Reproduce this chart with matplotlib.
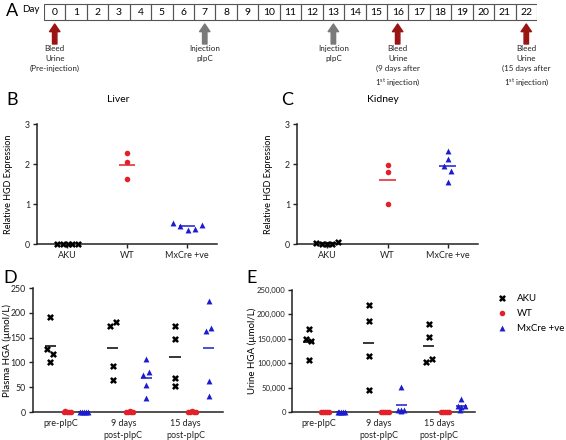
import numpy as np
import matplotlib
matplotlib.use("Agg")
from matplotlib import pyplot as plt
from matplotlib.patches import Rectangle

plt.rcParams['font.family'] = ['Lato', 'DejaVu Sans']
plt.rcParams['mathtext.fontset'] = 'custom'
plt.rcParams['mathtext.rm'] = 'Lato'

# ---- data ----
days = list(range(23))
event_days = [0, 7, 13, 16, 22]
event_kind = ['bleed', 'inject', 'inject', 'bleed', 'bleed']
event_labels = [
    "Bleed\nUrine\n(Pre-injection)",
    "Injection\npIpC",
    "Injection\npIpC",
    "Bleed\nUrine\n(9 days after\n1$^{\\mathrm{st}}$ injection)",
    "Bleed\nUrine\n(15 days after\n1$^{\\mathrm{st}}$ injection)",
]

genotypes = ['AKU', 'WT', 'MxCre +ve']
timepoints = ['pre-pIpC', '9 days\npost-pIpC', '15 days\npost-pIpC']

liver_aku = [0.0, 0.0, 0.0, 0.0, 0.0]
liver_wt = [2.27, 2.06, 1.63]
liver_mx = [0.53, 0.45, 0.36, 0.38, 0.48]

kidney_aku = [0.02, 0.01, 0.0, 0.01, 0.04]
kidney_wt = [1.98, 1.80, 1.01]
kidney_mx = [2.32, 2.12, 1.94, 1.82, 1.55]

plasma_aku = [[191, 128, 116, 100], [174, 181, 93, 65], [173, 147, 69, 52]]
plasma_wt = [[1, 2, 0, 1, 0], [1, 0, 2, 1, 0], [0, 1, 2, 1, 0]]
plasma_mx = [[0, 1, 0, 1, 0], [107, 81, 75, 54, 28], [223, 163, 169, 62, 32]]

urine_aku = [[169500, 150500, 145000, 107000], [219000, 185500, 115000, 45500],
             [180000, 153000, 108000, 103000]]
urine_wt = [[200, 100, 300, 0, 150], [300, 100, 200, 0, 100], [100, 200, 0, 300, 100]]
urine_mx = [[500, 300, 200, 400, 300], [51000, 4500, 3500, 3000, 5000],
            [26500, 12000, 12000, 10500, 5000]]

# ---- style / layout ----
RED = '#e3202a'
BLUE = '#1c1ccf'
DARKRED = '#9b1414'
GREY = '#7a7a7a'
W, H = 566, 440

fig = plt.figure(figsize=(W / 100, H / 100), dpi=100)


def box(l, t, r, b):
    return [l / W, 1 - b / H, (r - l) / W, (b - t) / H]


def ftext(x, y, s, **kw):
    fig.text(x / W, 1 - y / H, s, **kw)


def style_axis(ax):
    for side in ['top', 'right']:
        ax.spines[side].set_visible(False)
    for side in ['left', 'bottom']:
        ax.spines[side].set_linewidth(1.1)
        ax.spines[side].set_color('#222222')
    ax.tick_params(axis='y', labelsize=6.3, length=3, width=1, pad=2, colors='#222222')
    ax.tick_params(axis='x', labelsize=6.5, length=3, width=1, pad=2, colors='#222222')


mk = {
    'AKU': dict(marker='x', s=14, color='black', linewidths=1.8),
    'WT': dict(marker='o', s=16, color=RED, linewidths=0),
    'MxCre +ve': dict(marker='^', s=18, color=BLUE, linewidths=0),
}
mean_col = {'AKU': 'black', 'WT': RED, 'MxCre +ve': BLUE}

# ---- A: timeline ----
axA = fig.add_axes(box(44, 0, 537, 92))
axA.set_xlim(-0.5, 22.5)
axA.set_ylim(92, 0)
axA.axis('off')
for d in days:
    axA.add_patch(Rectangle((d - 0.5, 4), 1, 16, fill=False, lw=0.8, ec='#555555'))
    axA.text(d, 12.5, str(d), ha='center', va='center', fontsize=7.5)
for d, kind, lab in zip(event_days, event_kind, event_labels):
    col = DARKRED if kind == 'bleed' else GREY
    axA.annotate('', xy=(d, 24), xytext=(d, 44),
                 arrowprops=dict(arrowstyle='simple,head_length=0.55,head_width=0.75,tail_width=0.32',
                                 color=col, shrinkA=0, shrinkB=0, mutation_scale=10))
    axA.text(d, 45, lab, ha='center', va='top', fontsize=5.8, linespacing=1.45, color='#222222')
ftext(12, 11, 'A', fontsize=13, ha='center', va='center')
ftext(31, 10, 'Day', fontsize=7, ha='center', va='center')


# ---- B, C: HGD expression ----
def expression_panel(rect, aku, wt, mx, title, letter, lx, aku_dx, mx_dx, ylab_off):
    ax = fig.add_axes(box(*rect))
    style_axis(ax)
    ax.set_xlim(-0.5, 2.5)
    ax.set_ylim(0, 3)
    ax.set_yticks([0, 1, 2, 3])
    ax.set_xticks([0, 1, 2])
    ax.set_xticklabels(genotypes)
    groups = [(aku, aku_dx), (wt, [0] * len(wt)), (mx, mx_dx)]
    for i, (g, (vals, dx)) in enumerate(zip(genotypes, groups)):
        ax.hlines(np.mean(vals), i - 0.14, i + 0.14, color=mean_col[g], lw=1.1, zorder=2)
        ax.scatter(np.array(dx) + i, vals, zorder=3, clip_on=False, **mk[g])
    ax.set_ylabel('Relative HGD Expression', fontsize=6.5)
    ax.yaxis.set_label_coords(ylab_off, 0.5)
    ftext(lx[0], 100, letter, fontsize=13, ha='center', va='center')
    ftext(lx[1], 100, title, fontsize=7.5, ha='center', va='center')
    return ax


expression_panel((37, 124, 217, 244), liver_aku, liver_wt, liver_mx, 'Liver', 'B', (12, 118),
                 [-0.17, -0.07, 0.02, 0.09, 0.19], [-0.24, -0.11, 0.01, 0.13, 0.25], -0.135)
expression_panel((297, 124, 478, 244), kidney_aku, kidney_wt, kidney_mx, 'Kidney', 'C', (287, 383),
                 [-0.18, -0.08, 0.0, 0.08, 0.18], [0.0, 0.0, -0.07, 0.06, 0.0], -0.13)


# ---- D, E: HGA ----
def hga_panel(rect, aku, wt, mx, ylabel, letter, lpos, ylab_off, dx, yfmt):
    ax = fig.add_axes(box(*rect))
    style_axis(ax)
    ax.set_xlim(-0.55, 2.5)
    ax.set_ylim(0, 250 * yfmt)
    ax.set_yticks(np.arange(0, 251 * yfmt, 50 * yfmt))
    if yfmt > 1:
        ax.set_yticklabels(['0'] + [f'{int(v):,}' for v in np.arange(50 * yfmt, 251 * yfmt, 50 * yfmt)])
        ax.tick_params(axis='y', labelsize=5.6, pad=1.5)
    ax.set_xticks([i - 0.1 for i in range(3)])
    ax.set_xticklabels(timepoints, linespacing=1.45)
    ax.tick_params(axis='x', length=0, pad=5)
    for t in range(3):
        for j, (g, data) in enumerate(zip(genotypes, [aku, wt, mx])):
            vals = data[t]
            x0 = t + (j - 1) * 0.27
            ax.hlines(np.mean(vals), x0 - 0.09, x0 + 0.09, color=mean_col[g], lw=1.1, zorder=2)
            ax.scatter(x0 + np.array(dx[g][t]), vals, zorder=3, clip_on=False, **mk[g])
    ax.set_ylabel(ylabel, fontsize=7)
    ax.yaxis.set_label_coords(ylab_off, 0.5)
    ftext(lpos[0], lpos[1], letter, fontsize=13, ha='center', va='center')
    return ax


cluster = [-0.06, -0.03, 0.0, 0.03, 0.06]
plasma_dx = {
    'AKU': [[0, -0.06, 0.04, 0], [-0.05, 0.05, 0, 0], [0, 0, 0, 0]],
    'WT': [cluster, cluster, cluster],
    'MxCre +ve': [cluster, [0, 0.05, -0.05, 0, 0], [0, -0.05, 0.04, 0, 0]],
}
urine_dx = {
    'AKU': [[0, -0.055, 0.04, 0], [0, 0, 0, 0], [0, 0, 0.055, -0.05]],
    'WT': [cluster, cluster, cluster],
    'MxCre +ve': [cluster, [0, -0.05, 0.05, 0, 0], [0, -0.055, 0.055, 0, -0.02]],
}

hga_panel((33, 288, 223, 412), plasma_aku, plasma_wt, plasma_mx, 'Plasma HGA (µmol/L)', 'D',
          (10, 278), -0.112, plasma_dx, 1)
axE = hga_panel((292, 290, 475, 412), urine_aku, urine_wt, urine_mx, 'Urine HGA (µmol/L)', 'E',
                (252, 278), -0.19, urine_dx, 1000)

handles = [axE.scatter([], [], **mk[g]) for g in genotypes]
fig.legend(handles, genotypes, loc='upper left', bbox_to_anchor=(492 / W, 1 - 294 / H),
           frameon=False, fontsize=7, handletextpad=0.6, labelspacing=0.6,
           borderaxespad=0, borderpad=0)

fig.savefig('out.png', dpi=100)
